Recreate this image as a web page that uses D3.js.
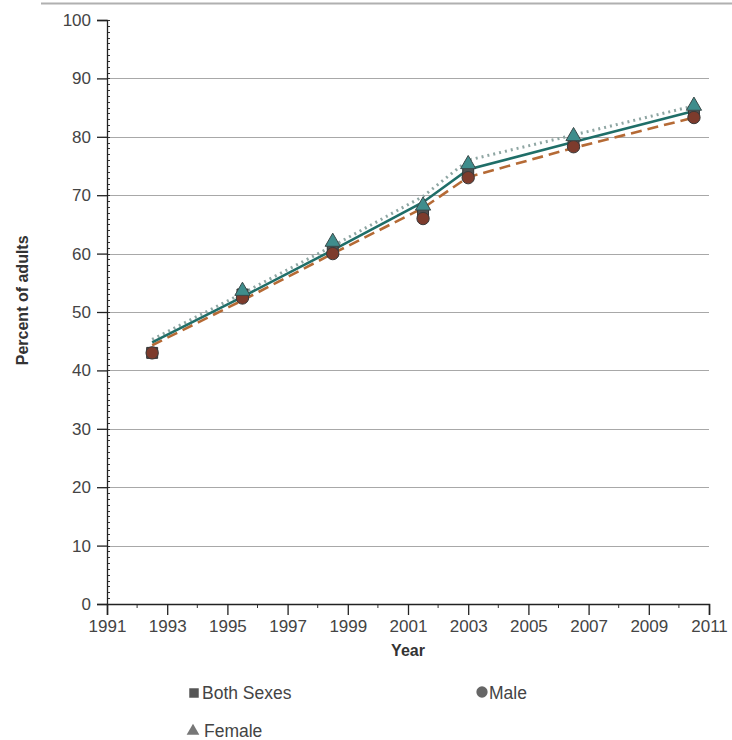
<!DOCTYPE html>
<html><head><meta charset="utf-8">
<script src="https://cdn.jsdelivr.net/npm/d3@7"></script>
<style>body{margin:0;background:#fff}svg{display:block}text{font-family:"Liberation Sans",Arial,sans-serif}</style>
</head><body><svg id="c" width="732" height="740"></svg>
<script>
const years = [1992.5, 1995.5, 1998.5, 2001.5, 2003, 2006.5, 2010.5];
// line values
const bothLine   = [44.8, 52.6, 60.6, 68.8, 74.4, 79.1, 84.4];
const maleLine   = [44.3, 52.0, 60.0, 67.8, 73.1, 78.1, 83.3];
const femaleLine = [45.3, 53.2, 61.3, 69.8, 76.0, 80.3, 85.3];
// marker values
const bothPts    = [43.0, 53.0, 60.5, 67.0, 74.0, 79.0, 84.0];
const malePts    = [43.0, 52.4, 60.0, 66.0, 73.0, 78.3, 83.3];
const femalePts  = [43.2, 53.6, 62.0, 68.2, 75.3, 80.1, 85.3];
const xTicks = [1991,1993,1995,1997,1999,2001,2003,2005,2007,2009,2011];
const yTicks = [0,10,20,30,40,50,60,70,80,90,100];
const legendLabels = ["Both Sexes","Male","Female"];

const svg = d3.select("#c");
const x = d3.scaleLinear().domain([1991, 2011]).range([107, 709]);
const y = d3.scaleLinear().domain([0, 100]).range([604, 20]);

// top rule
svg.append("line").attr("x1",41).attr("x2",732).attr("y1",3.5).attr("y2",3.5)
  .attr("stroke","#b0b0b0").attr("stroke-width",2);

// gridlines
svg.append("g").selectAll("line").data(yTicks.filter(v=>v>0&&v<100)).join("line")
  .attr("x1",x(1991)).attr("x2",x(2011)).attr("y1",d=>Math.round(y(d))+0.5).attr("y2",d=>Math.round(y(d))+0.5)
  .attr("stroke","#a8a8a8").attr("stroke-width",1.2);

// y minor ticks
svg.append("g").selectAll("line").data(d3.range(0,101,1)).join("line")
  .attr("x1",x(1991)).attr("x2",x(1991)+3).attr("y1",d=>Math.round(y(d))+0.5).attr("y2",d=>Math.round(y(d))+0.5)
  .attr("stroke","#333").attr("stroke-width",1);

// y axis
const yAxis = svg.append("g").attr("transform",`translate(${x(1991)},0)`)
  .call(d3.axisLeft(y).tickValues(yTicks).tickSize(10).tickPadding(6));
yAxis.select(".domain").attr("stroke","#222").attr("stroke-width",1.3);
yAxis.selectAll(".tick line").attr("stroke","#222").attr("stroke-width",1.3);
yAxis.selectAll("text").attr("font-size",17).attr("fill","#444");

// x minor ticks
svg.append("g").selectAll("line").data(d3.range(1992,2011,2)).join("line")
  .attr("x1",d=>x(d)).attr("x2",d=>x(d)).attr("y1",y(0)).attr("y2",y(0)+4)
  .attr("stroke","#333").attr("stroke-width",1);

// x axis
const xAxis = svg.append("g").attr("transform",`translate(0,${y(0)})`)
  .call(d3.axisBottom(x).tickValues(xTicks).tickFormat(d3.format("d")).tickSize(11).tickPadding(5));
xAxis.select(".domain").attr("stroke","#222").attr("stroke-width",1.5);
xAxis.selectAll(".tick line").attr("stroke","#222").attr("stroke-width",1.3);
xAxis.selectAll("text").attr("font-size",17).attr("fill","#444");

// axis titles
svg.append("text").attr("transform",`translate(28,${y(52)}) rotate(-90)`).attr("text-anchor","middle")
  .attr("font-size",16).attr("font-weight","bold").attr("fill","#333").text("Percent of adults");
svg.append("text").attr("x",x(2001)).attr("y",656).attr("text-anchor","middle")
  .attr("font-size",16).attr("font-weight","bold").attr("fill","#333").text("Year");

// lines
const line = d3.line().x((d,i)=>x(years[i])).y(d=>y(d));
svg.append("path").datum(femaleLine).attr("d",line).attr("fill","none")
  .attr("stroke","#8fa6a3").attr("stroke-width",3).attr("stroke-dasharray","2,4");
svg.append("path").datum(maleLine).attr("d",line).attr("fill","none")
  .attr("stroke","#b56a35").attr("stroke-width",2.6).attr("stroke-dasharray","11,6");
svg.append("path").datum(bothLine).attr("d",line).attr("fill","none")
  .attr("stroke","#1f6e68").attr("stroke-width",2.6);

// markers
const sq = d3.symbol().type(d3.symbolSquare).size(120);
const ci = d3.symbol().type(d3.symbolCircle).size(120);
const tr = d3.symbol().type(d3.symbolTriangle).size(100);
svg.append("g").selectAll("path").data(bothPts).join("path")
  .attr("d",sq).attr("transform",(d,i)=>`translate(${x(years[i])},${y(d)})`)
  .attr("fill","#505050").attr("stroke","#333").attr("stroke-width",1);
svg.append("g").selectAll("path").data(malePts).join("path")
  .attr("d",ci).attr("transform",(d,i)=>`translate(${x(years[i])},${y(d)})`)
  .attr("fill","#7d3b2c").attr("stroke","#3a3a3a").attr("stroke-width",1);
svg.append("g").selectAll("path").data(femalePts.slice(1)).join("path")
  .attr("d",tr).attr("transform",(d,i)=>`translate(${x(years[i+1])},${y(d)})`)
  .attr("fill","#3f8d8c").attr("stroke","#3a4a4a").attr("stroke-width",1);

// legend
const lg = svg.append("g");
lg.append("path").attr("d",d3.symbol().type(d3.symbolSquare).size(90)).attr("transform","translate(194,693)").attr("fill","#555");
lg.append("text").attr("x",202).attr("y",699).attr("font-size",17.5).attr("fill","#444").text(legendLabels[0]);
lg.append("path").attr("d",d3.symbol().type(d3.symbolCircle).size(100)).attr("transform","translate(482,692)").attr("fill","#666");
lg.append("text").attr("x",489).attr("y",699).attr("font-size",17.5).attr("fill","#444").text(legendLabels[1]);
lg.append("path").attr("d",d3.symbol().type(d3.symbolTriangle).size(70)).attr("transform","translate(193,731)").attr("fill","#777");
lg.append("text").attr("x",204).attr("y",737).attr("font-size",17.5).attr("fill","#444").text(legendLabels[2]);
</script></body></html>
